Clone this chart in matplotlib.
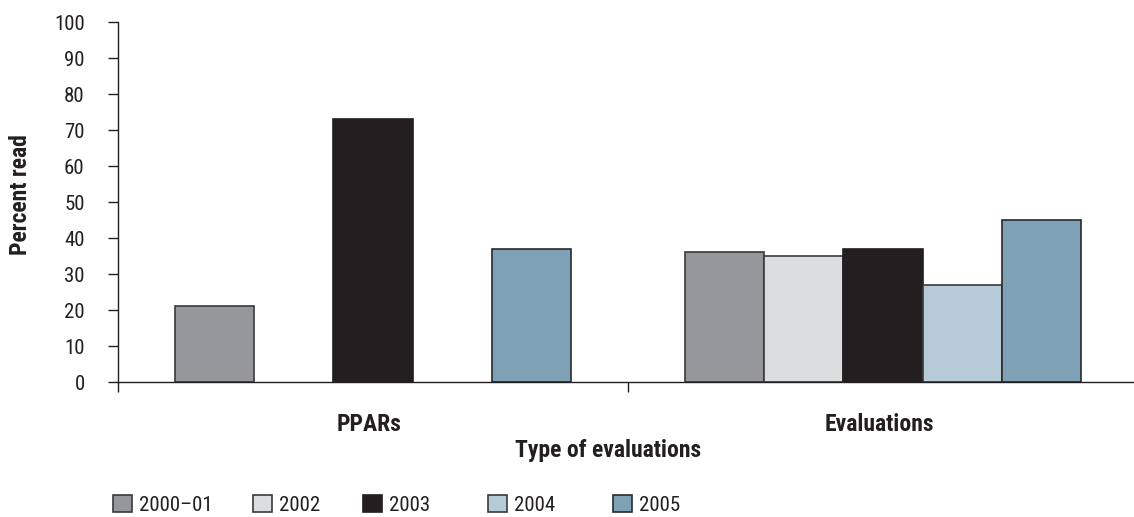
import numpy as np
import matplotlib.pyplot as plt
from matplotlib import font_manager
from matplotlib.patches import Patch
from matplotlib.transforms import blended_transform_factory

categories = ['PPARs', 'Evaluations']
years = ['2000\u201301', '2002', '2003', '2004', '2005']
# None = no bar for that year
ppars = [21, None, 73, None, 37]
evaluations = [36, 35, 37, 27, 45]
colors = ['#96979b', '#dcdddf', '#231f20', '#b7cad7', '#7ea1b5']
edges = ['#3a3a3c', '#3a3a3c', '#231f20', '#3a3a3c', '#2a2a2c']

# look for a narrow font, the original uses a condensed sans
names = {f.name for f in font_manager.fontManager.ttflist}
condensed = [f for f in font_manager.fontManager.ttflist
             if f.stretch in ('condensed', 'semi-condensed', 'extra-condensed')
             or (isinstance(f.stretch, int) and f.stretch < 500)]
fam, stretch = 'DejaVu Sans', 'normal'
for cand in ['Liberation Sans Narrow', 'Roboto Condensed', 'Open Sans Condensed']:
    if cand in names:
        fam = cand
        break
else:
    if condensed:
        fam, stretch = condensed[0].name, 'condensed'
plt.rcParams['font.family'] = [fam, 'DejaVu Sans']
plt.rcParams['font.stretch'] = stretch

FS = 15      # ticks, legend
FSB = 17     # bold labels
INK = '#231f20'
W, H = 1134, 517

fig = plt.figure(figsize=(W / 100, H / 100), dpi=100)
ax = fig.add_axes([118 / W, 135 / H, 1020 / W, 360 / H])

width = 0.155
x = np.arange(len(categories))
for i, yr in enumerate(years):
    vals = [ppars[i], evaluations[i]]
    xs = [x[j] + (i - 2) * width for j in range(2) if vals[j] is not None]
    hs = [v for v in vals if v is not None]
    ax.bar(xs, hs, width=width, color=colors[i], edgecolor=edges[i],
           linewidth=1.2)

ax.set_xlim(-0.5, 1.5)
ax.set_ylim(0, 100)
ax.set_yticks(range(0, 101, 10))
ax.set_xticks([-0.5, 0.5, 1.5])
ax.set_xticklabels([])
ax.tick_params(axis='both', direction='out', length=7, width=1, color=INK,
               labelsize=FS, labelcolor=INK)
ax.tick_params(axis='y', pad=17)
for s in ['top', 'right']:
    ax.spines[s].set_visible(False)
for s in ['left', 'bottom']:
    ax.spines[s].set_color(INK)
    ax.spines[s].set_linewidth(1)

# category names sit under each group, y in figure coords
cat_tr = blended_transform_factory(ax.transData, fig.transFigure)
for j, c in enumerate(categories):
    ax.text(x[j] - 0.008, 1 - 431 / H, c, ha='center', va='baseline',
            fontsize=FSB, fontweight='bold', color=INK, transform=cat_tr)

fig.text(21 / W, 1 - 195 / H, 'Percent read', rotation=90, ha='center',
         va='center', fontsize=FSB, fontweight='bold', color=INK)
fig.text(608 / W, 1 - 457 / H, 'Type of evaluations', ha='center',
         va='baseline', fontsize=FSB, fontweight='bold', color=INK)

# one legend per entry so the gaps follow the original
legend_x = [113, 253, 363, 488, 613]
for i, yr in enumerate(years):
    h = Patch(facecolor=colors[i], edgecolor=edges[i], linewidth=1.2)
    fig.legend([h], [yr], loc='center left',
               bbox_to_anchor=(legend_x[i] / W, 1 - 505 / H),
               frameon=False, fontsize=FS, handlelength=0.92,
               handleheight=0.82, handletextpad=0.33, borderpad=0,
               borderaxespad=0, labelcolor=INK)

fig.savefig('out.png', dpi=100)
